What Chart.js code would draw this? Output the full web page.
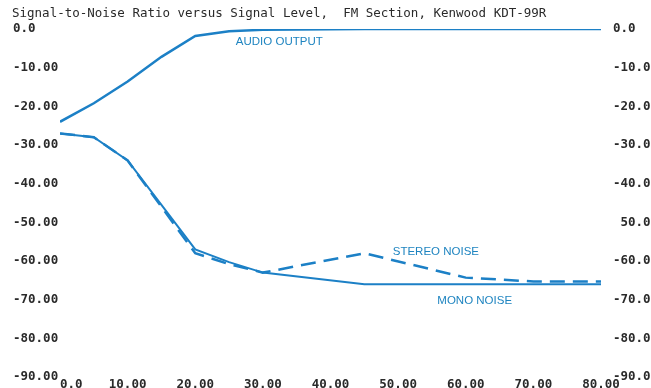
<!DOCTYPE html>
<html>
<head>
<meta charset="utf-8">
<script src="https://cdn.jsdelivr.net/npm/chart.js@4.4.0/dist/chart.umd.min.js"></script>
<style>
    body { margin: 0; background: #fff; }
    canvas { display: block; }
</style>
</head>
<body>
<canvas id="snChart" width="651" height="388"></canvas>
<script>
// signal level (dBf)
const signalLevels = [0, 5, 10, 15, 20, 25, 30, 45, 60, 70, 80]
const audioOutput = [-24, -19.2, -13.6, -7.2, -1.8, -0.6, -0.2, 0, 0, 0, 0]
const stereoNoise = [-27, -28, -34, -46, -58, -60.8, -63, -58, -64.3, -65.3, -65.3]
const monoNoise = [-27, -28, -34, -45.5, -57, -60.3, -63, -66, -66, -66, -66]

const xTickLabels = ['0.0', '10.00', '20.00', '30.00', '40.00', '50.00', '60.00', '70.00', '80.00']
const leftTickLabels = ['0.0', '-10.00', '-20.00', '-30.00', '-40.00', '-50.00', '-60.00', '-70.00', '-80.00', '-90.00']
const rightTickLabels = ['0.0', '-10.0', '-20.0', '-30.0', '-40.0', ' 50.0', '-60.0', '-70.0', '-80.0', '-90.0']

const seriesNames = ['AUDIO OUTPUT', 'STEREO NOISE', 'MONO NOISE']
const chartTitle = 'Signal-to-Noise Ratio versus Signal Level,  FM Section, Kenwood KDT-99R'

const lineBlue = 'rgb(28, 128, 198)'
const textBlue = 'rgb(30, 132, 192)'
const tickFont = { family: 'DejaVu Sans Mono', size: 12.5, weight: 'bold' }
const noGrid = { display: false, drawTicks: false }

const toPoints = (values) => values.map((v, i) => ({ x: signalLevels[i], y: v }))

// title and the hand-lettered curve names
const annotations = {
    id: 'annotations',
    afterDraw(chart) {
        const { ctx, scales } = chart
        ctx.save()
        ctx.fillStyle = '#2a2a2a'
        ctx.font = '12.5px "DejaVu Sans Mono"'
        ctx.textBaseline = 'middle'
        ctx.textAlign = 'left'
        ctx.fillText(chartTitle, 12, 14)

        const spots = [[26, -3.4], [49.2, -57.6], [55.8, -70.4]]
        ctx.fillStyle = textBlue
        ctx.font = '11.5px "Liberation Sans"'
        seriesNames.forEach((name, i) => {
            ctx.fillText(name, scales.x.getPixelForValue(spots[i][0]), scales.y.getPixelForValue(spots[i][1]))
        })
        ctx.restore()
    }
}

const tickIndex = (value) => Math.round(Math.abs(value) / 10)

// no extra room for half-height labels at the ends of the vertical axes
const fitVertical = (width) => (axis) => {
    axis.width = width
    axis.paddingTop = 0
    axis.paddingBottom = 0
}

new Chart(document.getElementById('snChart').getContext('2d'), {
    type: 'line',
    data: {
        datasets: [
            {
                label: seriesNames[0],
                data: toPoints(audioOutput),
                borderColor: lineBlue,
                borderWidth: 2.5,
                pointRadius: 0,
                yAxisID: 'y'
            },
            {
                label: seriesNames[1],
                data: toPoints(stereoNoise),
                borderColor: lineBlue,
                borderWidth: 2.5,
                borderDash: [15, 8],
                pointRadius: 0,
                yAxisID: 'y'
            },
            {
                label: seriesNames[2],
                data: toPoints(monoNoise),
                borderColor: lineBlue,
                borderWidth: 2,
                pointRadius: 0,
                yAxisID: 'y'
            }
        ]
    },
    options: {
        responsive: false,
        animation: false,
        layout: { padding: { top: 29, left: 13, right: 0, bottom: 0 } },
        plugins: {
            legend: { display: false },
            tooltip: { enabled: false }
        },
        scales: {
            x: {
                type: 'linear',
                min: 0,
                max: 80,
                grid: noGrid,
                border: { display: false },
                afterFit: (axis) => {
                    axis.height = 11
                    axis.paddingLeft = 0
                    axis.paddingRight = 0
                },
                ticks: {
                    stepSize: 10,
                    padding: 0,
                    maxRotation: 0,
                    autoSkip: false,
                    color: '#2a2a2a',
                    font: tickFont,
                    callback: (value) => xTickLabels[value / 10] === '0.0' ? '   0.0' : xTickLabels[value / 10]
                }
            },
            y: {
                position: 'left',
                min: -90,
                max: 0,
                grid: noGrid,
                border: { display: false },
                afterFit: fitVertical(47),
                ticks: {
                    stepSize: 10,
                    padding: 3,
                    crossAlign: 'far',
                    color: '#2a2a2a',
                    font: tickFont,
                    callback: (value) => leftTickLabels[tickIndex(value)]
                }
            },
            y2: {
                position: 'right',
                min: -90,
                max: 0,
                grid: noGrid,
                border: { display: false },
                afterFit: fitVertical(50),
                ticks: {
                    stepSize: 10,
                    padding: 12,
                    color: '#2a2a2a',
                    font: tickFont,
                    callback: (value) => rightTickLabels[tickIndex(value)]
                }
            }
        }
    },
    plugins: [annotations]
})
</script>
</body>
</html>
